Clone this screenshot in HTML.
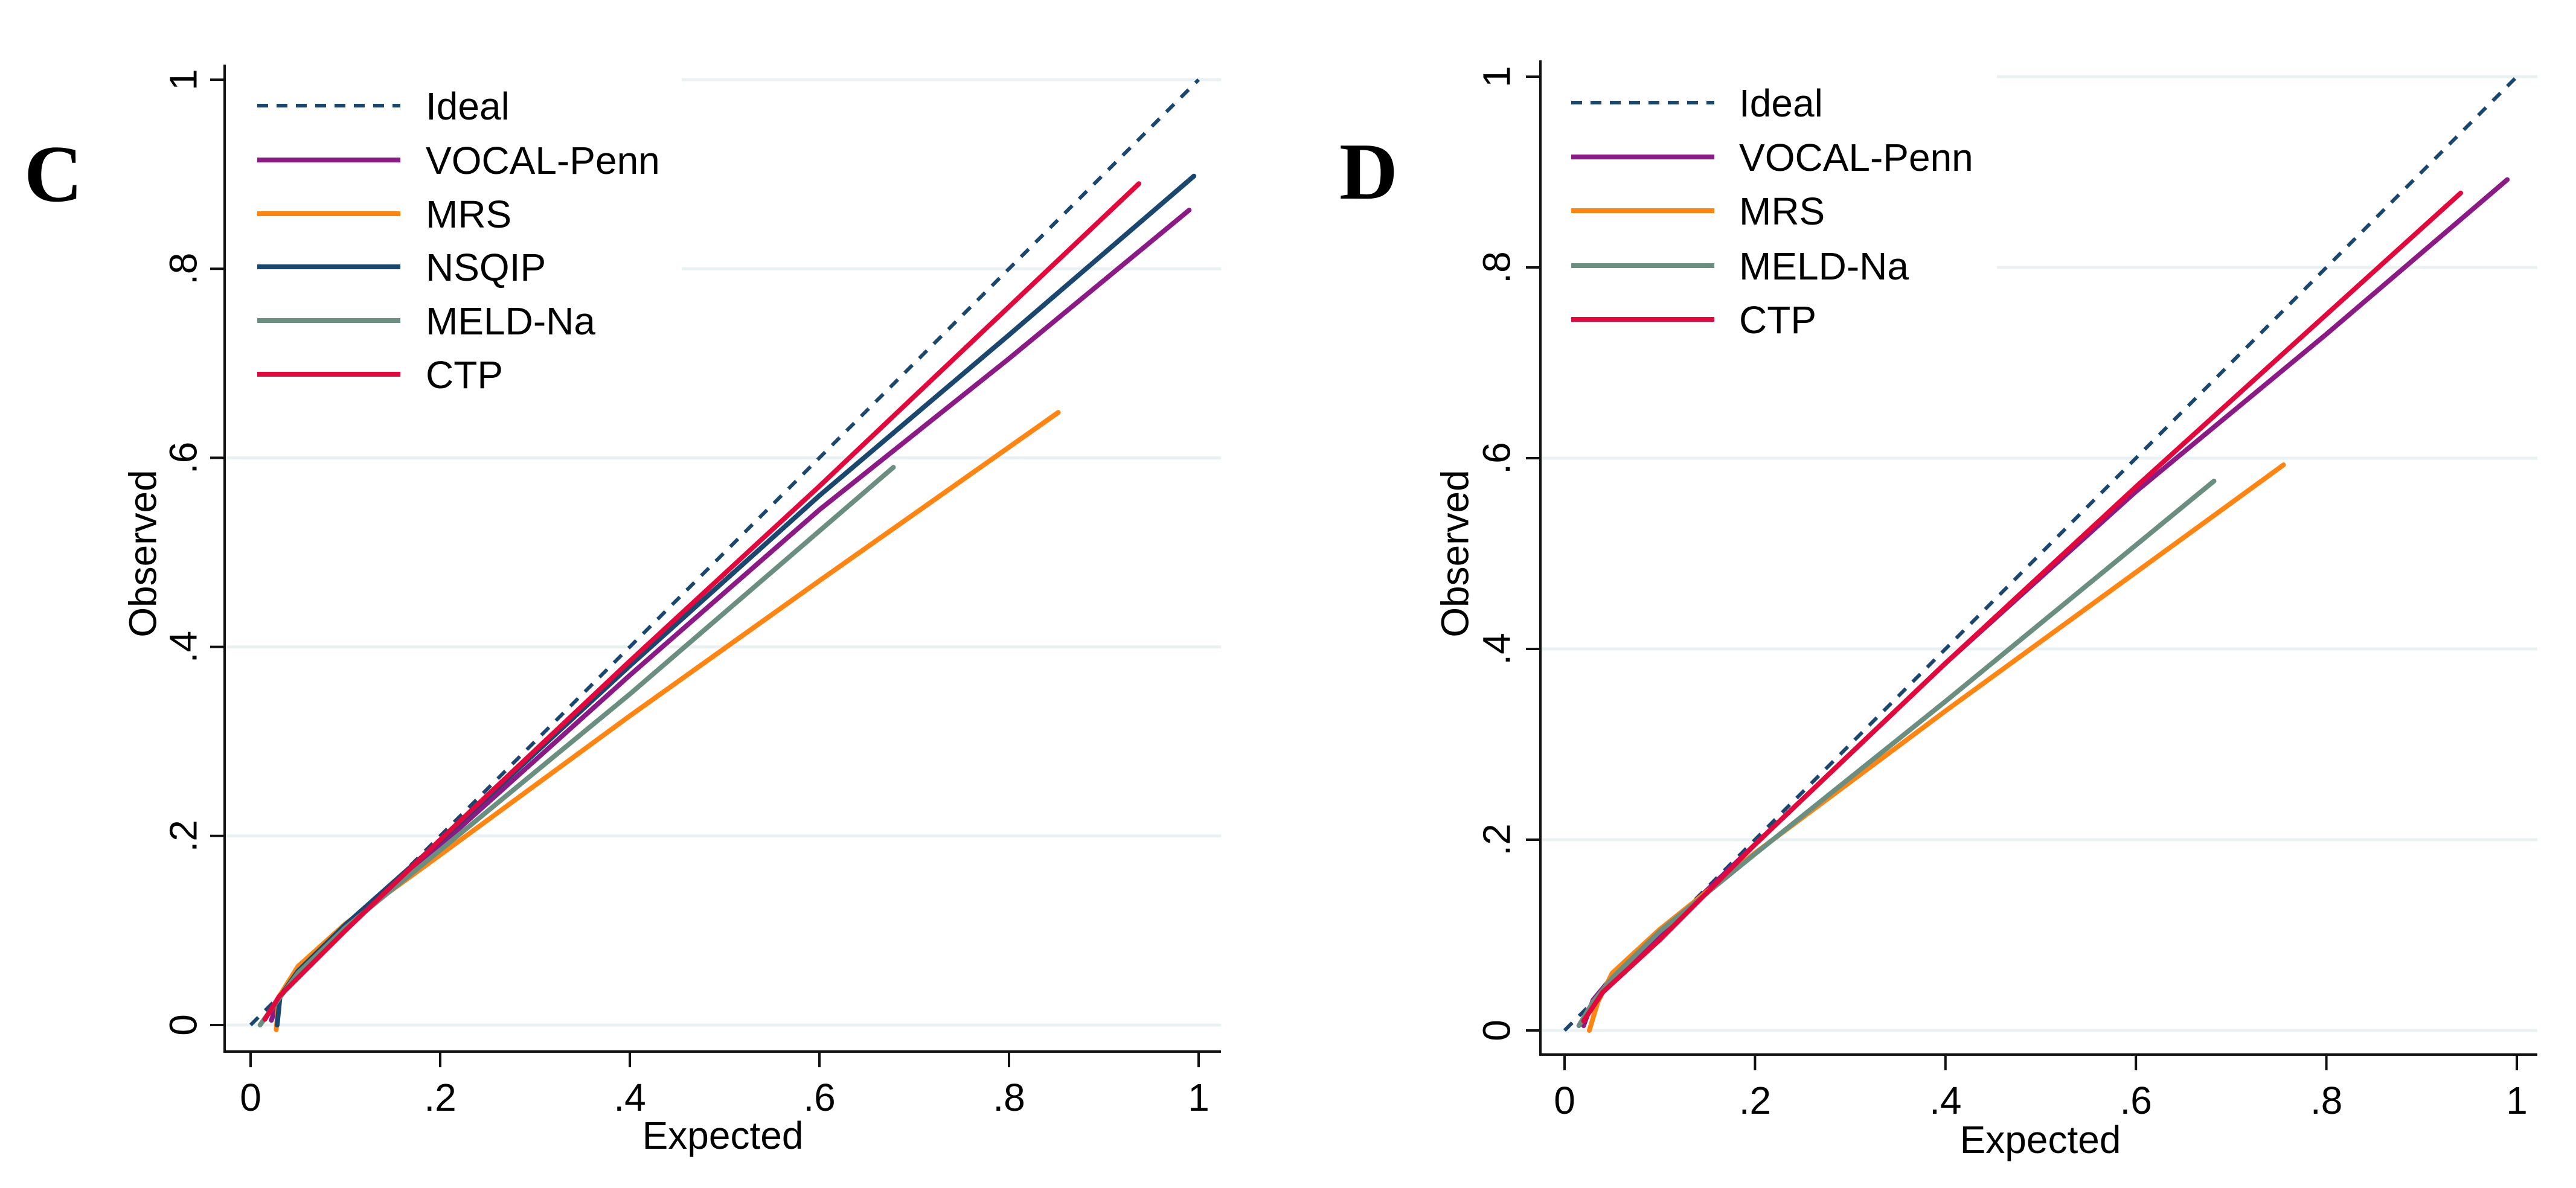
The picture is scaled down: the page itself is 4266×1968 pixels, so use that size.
<!DOCTYPE html>
<html><head><meta charset="utf-8"><style>
html,body{margin:0;padding:0;background:#fff;}
svg{display:block;font-family:"Liberation Sans",Arial,sans-serif;}
</style></head>
<body>
<svg id="chart" width="4266" height="1968" viewBox="0 0 4266 1968" xmlns="http://www.w3.org/2000/svg">
<rect width="4266" height="1968" fill="#fff"/>
</svg>
<script>
const ticks = [0, 0.2, 0.4, 0.6, 0.8, 1];
const tickLabels = ["0", ".2", ".4", ".6", ".8", "1"];
const seriesNames = ["Ideal", "VOCAL-Penn", "MRS", "NSQIP", "MELD-Na", "CTP"];
const idealX = [0, 1];
const idealY = [0, 1];
// Panel C
const cVocalX = [0.022, 0.03, 0.05, 0.1, 0.2, 0.4, 0.6, 0.8, 0.99];
const cVocalY = [0.005, 0.03, 0.055, 0.105, 0.19, 0.37, 0.545, 0.705, 0.862];
const cMrsX = [0.027, 0.03, 0.05, 0.1, 0.2, 0.4, 0.6, 0.852];
const cMrsY = [-0.005, 0.03, 0.062, 0.107, 0.18, 0.327, 0.47, 0.648];
const cNsqipX = [0.028, 0.031, 0.05, 0.1, 0.2, 0.4, 0.6, 0.8, 0.995];
const cNsqipY = [0.0, 0.03, 0.057, 0.106, 0.195, 0.38, 0.56, 0.73, 0.898];
const cMeldX = [0.01, 0.03, 0.05, 0.1, 0.2, 0.4, 0.678];
const cMeldY = [0.0, 0.028, 0.055, 0.103, 0.185, 0.35, 0.59];
const cCtpX = [0.015, 0.03, 0.05, 0.1, 0.2, 0.4, 0.6, 0.937];
const cCtpY = [0.006, 0.03, 0.05, 0.1, 0.196, 0.385, 0.57, 0.89];
// Panel D
const dVocalX = [0.02, 0.03, 0.05, 0.1, 0.2, 0.4, 0.6, 0.8, 0.99];
const dVocalY = [0.005, 0.032, 0.056, 0.1, 0.195, 0.385, 0.565, 0.73, 0.892];
const dMrsX = [0.026, 0.035, 0.05, 0.1, 0.2, 0.4, 0.755];
const dMrsY = [0.0, 0.03, 0.06, 0.106, 0.186, 0.335, 0.593];
const dMeldX = [0.015, 0.03, 0.05, 0.1, 0.2, 0.4, 0.682];
const dMeldY = [0.005, 0.03, 0.055, 0.104, 0.185, 0.345, 0.576];
const dCtpX = [0.02, 0.04, 0.1, 0.2, 0.4, 0.6, 0.941];
const dCtpY = [0.01, 0.04, 0.095, 0.195, 0.385, 0.57, 0.878];

const NS = "http://www.w3.org/2000/svg";
const svg = document.getElementById("chart");
function mk(tag, attrs, parent) {
  const e = document.createElementNS(NS, tag);
  for (const k in attrs) e.setAttribute(k, attrs[k]);
  (parent || svg).appendChild(e);
  return e;
}
const colors = {"Ideal":"#1a476f","VOCAL-Penn":"#8c1a86","MRS":"#ff8410","NSQIP":"#1a476f","MELD-Na":"#6a8e80","CTP":"#e2083c"};

function panel(cfg) {
  const g = mk("g", {});
  
  
  const sx = v => cfg.x0 + v * (cfg.x1 - cfg.x0);
  const sy = v => cfg.y0 - v * (cfg.y0 - cfg.y1);
  // gridlines
  ticks.forEach((t, i) => {
    const y = sy(t);
    const startX = (y < cfg.legBottom) ? cfg.legRight : cfg.frameL + 3;
    const gl = mk("line", {x1:startX, x2:cfg.frameR, y1:y, y2:y, stroke:"#e9f1f2", "stroke-width":5}, g);
    
    
  });
  // axes
  const ax = mk("path", {d:`M${cfg.frameL},${cfg.frameT} L${cfg.frameL},${cfg.frameB} L${cfg.frameR},${cfg.frameB}`, fill:"none", stroke:"#111", "stroke-width":4}, g);
  
  
  ticks.forEach((t, i) => {
    const x = sx(t);
    const tk = mk("line", {x1:x, x2:x, y1:cfg.frameB, y2:cfg.frameB + 26, stroke:"#111", "stroke-width":4}, g);
    
    
    const tl = mk("text", {x:x, y:cfg.frameB + 98, "font-size":64, "text-anchor":"middle", fill:"#000"}, g);
    tl.textContent = tickLabels[i];
    
    
    const y = sy(t);
    const ty = mk("line", {x1:cfg.frameL - 24, x2:cfg.frameL, y1:y, y2:y, stroke:"#111", "stroke-width":4}, g);
    
    
    const yl = mk("text", {x:0, y:0, "font-size":64, "text-anchor":"middle", fill:"#000", transform:`translate(${cfg.yLabX},${y}) rotate(-90)`, dy:"0.35em"}, g);
    yl.textContent = tickLabels[i];
    
    
  });
  const xt = mk("text", {x:cfg.xTitleX, y:cfg.xTitleY, "font-size":64, "text-anchor":"middle", fill:"#000"}, g);
  xt.textContent = "Expected";
  
  
  const yt = mk("text", {x:0, y:0, "font-size":64, "text-anchor":"middle", fill:"#000", dy:"0.35em", transform:`translate(${cfg.yTitleX},917) rotate(-90)`}, g);
  yt.textContent = "Observed";
  
  
  const pl = mk("text", {x:cfg.letterX, y:cfg.letterY, "font-size":134, "font-weight":"bold", "font-family":"'Liberation Serif',serif", fill:"#000"}, g);
  pl.textContent = cfg.letter;
  
  
  // series
  cfg.series.forEach(s => {
    const d = s.xs.map((v, i) => (i ? "L" : "M") + sx(v).toFixed(1) + "," + sy(s.ys[i]).toFixed(1)).join(" ");
    const attrs = {d:d, fill:"none", stroke:colors[s.name], "stroke-width":s.name === "Ideal" ? 6 : 8, "stroke-linecap":"round", "stroke-linejoin":"round"};
    if (s.name === "Ideal") { attrs["stroke-dasharray"] = "18 16"; attrs["stroke-linecap"] = "butt"; }
    const p = mk("path", attrs, g);
    
    
  });
  // legend
  cfg.series.forEach((s, i) => {
    const y = cfg.legY[i];
    const la = {x1:cfg.legLineX1, x2:cfg.legLineX2, y1:y, y2:y, stroke:colors[s.name], "stroke-width":s.name === "Ideal" ? 6 : 8};
    if (s.name === "Ideal") la["stroke-dasharray"] = "18 14";
    const ll = mk("line", la, g);
    
    
    const lt = mk("text", {x:cfg.legTextX, y:y + 23, "font-size":64, fill:"#000"}, g);
    lt.textContent = s.name;
    
    
  });
}

panel({
  id:"c", letter:"C", letterX:40, letterY:333,
  x0:415, x1:1985, y0:1698, y1:132,
  frameL:372, frameR:2022, frameT:107, frameB:1742,
  legRight:1129, legBottom:666,
  yLabX:303, yTitleX:236, xTitleX:1197, xTitleY:1903,
  legY:[175, 265, 354, 442, 531, 620], legLineX1:426, legLineX2:663, legTextX:705,
  series:[
    {name:"Ideal", xs:idealX, ys:idealY},
    {name:"VOCAL-Penn", xs:cVocalX, ys:cVocalY},
    {name:"MRS", xs:cMrsX, ys:cMrsY},
    {name:"NSQIP", xs:cNsqipX, ys:cNsqipY},
    {name:"MELD-Na", xs:cMeldX, ys:cMeldY},
    {name:"CTP", xs:cCtpX, ys:cCtpY}
  ]
});
panel({
  id:"d", letter:"D", letterX:2218, letterY:329,
  x0:2591, x1:4168, y0:1707, y1:127,
  frameL:2551, frameR:4202, frameT:100, frameB:1747,
  legRight:3307, legBottom:578,
  yLabX:2478, yTitleX:2409, xTitleX:3379, xTitleY:1910,
  legY:[170, 260, 349, 440, 529], legLineX1:2602, legLineX2:2839, legTextX:2880,
  series:[
    {name:"Ideal", xs:idealX, ys:idealY},
    {name:"VOCAL-Penn", xs:dVocalX, ys:dVocalY},
    {name:"MRS", xs:dMrsX, ys:dMrsY},
    {name:"MELD-Na", xs:dMeldX, ys:dMeldY},
    {name:"CTP", xs:dCtpX, ys:dCtpY}
  ]
});
</script>
</body></html>
